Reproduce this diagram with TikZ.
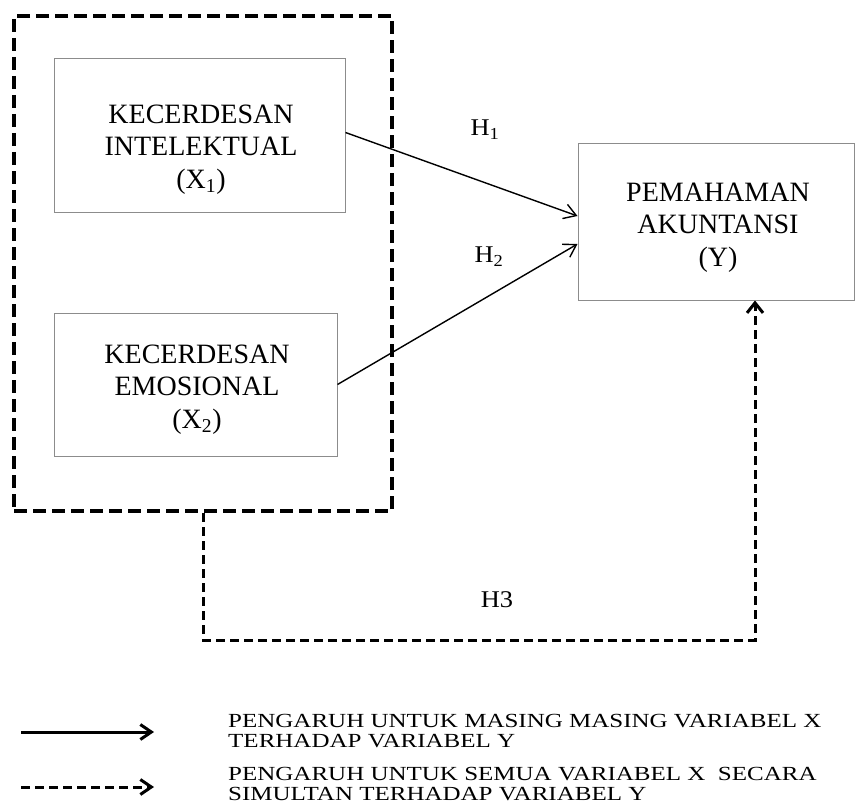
\documentclass[tikz,border=0pt]{standalone}
\usepackage{fontspec}
\setmainfont{Liberation Serif}
\newfontfamily\legfont[FakeStretch=1.25]{Liberation Serif}
\newfontfamily\hfont[FakeStretch=1.1]{Liberation Serif}
\usetikzlibrary{arrows.meta}
\definecolor{boxgray}{HTML}{8C8C8C}
\begin{document}
\begin{tikzpicture}[x=1pt,y=-1pt,
  varbox/.style={draw=boxgray,line width=1pt,inner sep=0pt},
  boxtext/.style={font=\fontsize{28}{32.5}\selectfont,align=center,inner sep=0pt,anchor=north},
  grpbox/.style={draw=black,line width=4pt,dash pattern=on 13pt off 6pt,inner sep=0pt},
  hyp/.style={draw=black,line width=1.4pt,-{Straight Barb[length=12pt,width=15pt]}},
  hlab/.style={font=\hfont\fontsize{24}{26}\selectfont,inner sep=0pt},
  h3line/.style={draw=black,line width=3pt,dash pattern=on 9pt off 5pt,-{Straight Barb[length=10pt,width=16pt]}},
  legsolid/.style={draw=black,line width=3pt,-{Straight Barb[length=11pt,width=15pt]}},
  legdash/.style={draw=black,line width=3pt,dash pattern=on 9pt off 5pt,-{Straight Barb[length=11pt,width=15pt]}},
  legtext/.style={font=\legfont\fontsize{20}{19.5}\selectfont,align=left,inner sep=0pt,anchor=north west}
]
\useasboundingbox (0,0) rectangle (858,805);
\fill[white] (0,0) rectangle (858,805);

% group box
\node[grpbox,minimum width=378pt,minimum height=495pt] (grp) at (203,263.5) {};

% variable boxes
\node[varbox,minimum width=291pt,minimum height=153pt] (x1) at (199.5,135.5) {};
\node[boxtext] (x1t) at (201,104.5) {KECERDESAN\\INTELEKTUAL\\(X\textsubscript{1})};
\node[varbox,minimum width=283pt,minimum height=143pt] (x2) at (195.5,384.5) {};
\node[boxtext] (x2t) at (197,344.5) {KECERDESAN\\EMOSIONAL\\(X\textsubscript{2})};
\node[varbox,minimum width=276pt,minimum height=156pt] (y) at (716,222) {};
\node[boxtext] (yt) at (718,182.5) {PEMAHAMAN\\AKUNTANSI\\(Y)};

% hypotheses
\draw[hyp] ([yshift=3pt]x1.east) -- ([yshift=6pt]y.west);
\draw[hyp] (x2.east) -- ([yshift=-22pt]y.west);
\node[hlab] (h1) at (485,130) {H\textsubscript{1}};
\node[hlab] (h2) at (489,257) {H\textsubscript{2}};

\draw[h3line] (grp.south) -- ++(0,127) -| ([xshift=39pt]y.south);
\node[hlab] (h3) at (497,600) {H3};

% legend
\coordinate (s1) at (21,732);
\coordinate (s2) at (154,732);
\draw[legsolid] (s1) -- (s2);
\coordinate (d1) at (21,787);
\coordinate (d2) at (154,787);
\draw[legdash] (d1) -- (d2);
\node[legtext] (lt1) at (228,714.5) {PENGARUH UNTUK MASING MASING VARIABEL X\\TERHADAP VARIABEL Y};
\node[legtext] (lt2) at (228,767.5) {PENGARUH UNTUK SEMUA VARIABEL X\ \ SECARA\\SIMULTAN TERHADAP VARIABEL Y};
\end{tikzpicture}
\end{document}
